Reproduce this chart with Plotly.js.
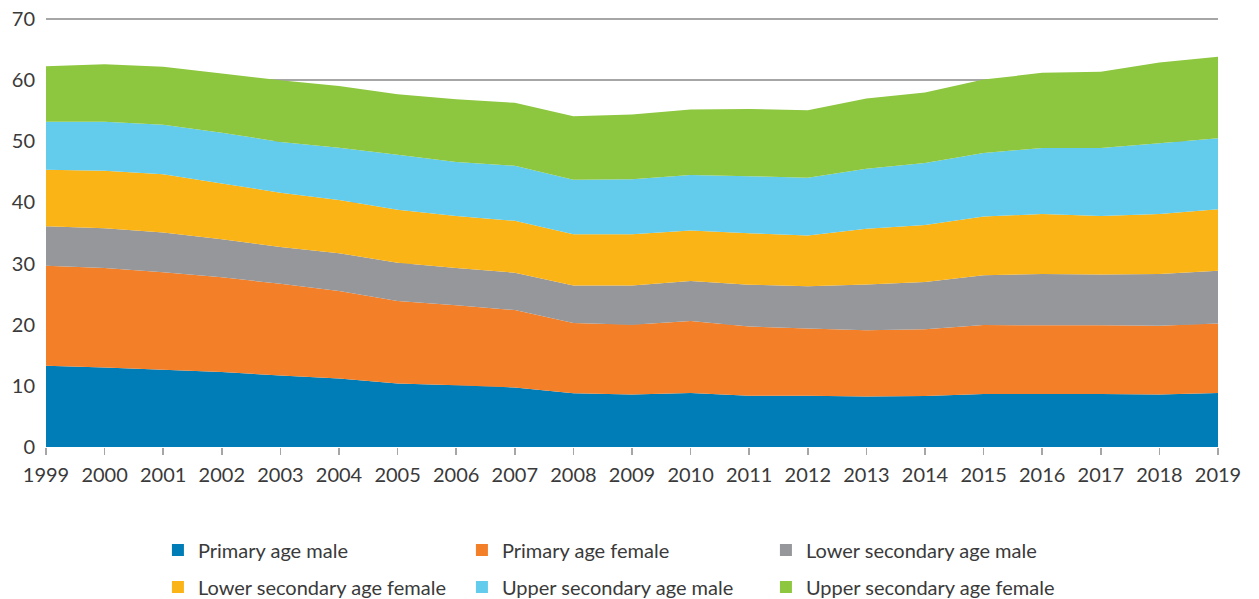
<!DOCTYPE html>
<html>
<head>
<meta charset="utf-8">
<script src="https://cdn.plot.ly/plotly-3.0.1.min.js"></script>
<style>html,body{margin:0;padding:0;background:#fff;}#chart{width:1259px;height:599px;}</style>
</head>
<body>
<div id="chart"></div>
<script>
const years = [1999,2000,2001,2002,2003,2004,2005,2006,2007,2008,2009,2010,2011,2012,2013,2014,2015,2016,2017,2018,2019];
const seriesNames = ["Primary age male","Primary age female","Lower secondary age male","Lower secondary age female","Upper secondary age male","Upper secondary age female"];
const primaryMale = [13.3,13.0,12.65,12.25,11.7,11.2,10.4,10.1,9.75,8.8,8.6,8.85,8.4,8.4,8.25,8.35,8.65,8.65,8.65,8.6,8.85];
const primaryFemale = [16.35,16.3,15.95,15.5,15.0,14.3,13.5,13.1,12.65,11.5,11.4,11.75,11.3,11.0,10.85,10.9,11.3,11.25,11.25,11.25,11.35];
const lowerSecMale = [6.45,6.5,6.5,6.25,6.0,6.2,6.25,6.1,6.1,6.1,6.4,6.55,6.85,6.9,7.5,7.75,8.15,8.4,8.3,8.45,8.65];
const lowerSecFemale = [9.25,9.4,9.5,9.1,8.9,8.7,8.65,8.5,8.5,8.4,8.4,8.25,8.4,8.3,9.1,9.3,9.6,9.8,9.6,9.8,10.05];
const upperSecMale = [7.85,8.0,8.1,8.3,8.3,8.55,9.0,8.8,9.0,8.9,9.0,9.1,9.35,9.45,9.8,10.15,10.4,10.8,11.1,11.6,11.6];
const upperSecFemale = [9.1,9.4,9.5,9.7,10.1,10.1,9.9,10.3,10.3,10.4,10.6,10.7,11.0,11.05,11.5,11.55,12.0,12.3,12.5,13.2,13.35];

const values = [primaryMale, primaryFemale, lowerSecMale, lowerSecFemale, upperSecMale, upperSecFemale];
const colors = ["#007DB7","#F37F29","#96979A","#FBB416","#63CBEC","#8DC63F"];

const traces = [];
values.forEach((v, i) => {
  traces.push({
    type: "scatter", mode: "none", x: years, y: v, name: seriesNames[i],
    stackgroup: "one", fillcolor: colors[i], line: {width: 0},
    showlegend: false, hoverinfo: "x+y+name"
  });
});
values.forEach((v, i) => {
  traces.push({
    type: "scatter", mode: "markers", x: [null], y: [null], name: seriesNames[i],
    marker: {symbol: "square", size: 12, color: colors[i]},
    showlegend: true, legend: i < 3 ? "legend" : "legend2"
  });
});

const legendCommon = {
  orientation: "h", xanchor: "left", yanchor: "middle",
  xref: "container", yref: "container",
  entrywidth: 259, entrywidthmode: "pixels", traceorder: "normal",
  font: {family: "Lato, sans-serif", size: 20, color: "#3a3a3a"},
  bgcolor: "rgba(0,0,0,0)", itemclick: false
};

const layout = {
  width: 1259, height: 599,
  margin: {l: 46, r: 41, t: 15.94, b: 152},
  paper_bgcolor: "#fff", plot_bgcolor: "#fff",
  font: {family: "Lato, sans-serif", color: "#3a3a3a"},
  xaxis: {
    range: [1999, 2019], tickvals: years, ticktext: years.map(String),
    ticks: "outside", ticklen: 7, tickwidth: 1.5, tickcolor: "#a6a6a6",
    showgrid: false, zeroline: false, showline: false,
    ticklabelstandoff: 3,
    tickfont: {size: 20, color: "#3a3a3a"}
  },
  yaxis: {
    range: [0, 70.5], tickvals: [0,10,20,30,40,50,60,70],
    showgrid: true, gridcolor: "#a6a6a6", gridwidth: 1.5,
    zeroline: false, showline: false, ticks: "",
    ticklabelstandoff: 10,
    tickfont: {size: 20, color: "#3a3a3a"}
  },
  legend: Object.assign({}, legendCommon, {x: 168 / 1259 - 0.008, y: 1 - 550 / 599}),
  legend2: Object.assign({}, legendCommon, {x: 168 / 1259 - 0.008, y: 1 - 587 / 599}),
  showlegend: true
};

Plotly.newPlot("chart", traces, layout, {displayModeBar: false, staticPlot: true});
</script>
</body>
</html>
